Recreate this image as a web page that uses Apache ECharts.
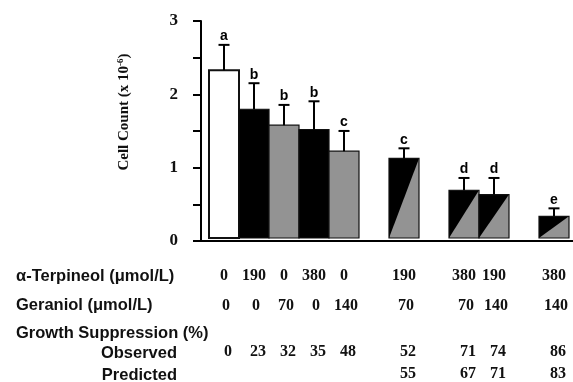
<!DOCTYPE html>
<html>
<head>
<meta charset="utf-8">
<script src="https://cdn.jsdelivr.net/npm/echarts@6/dist/echarts.min.js"></script>
<style>
  html, body { margin: 0; padding: 0; background: #fff; }
  #chart { width: 573px; height: 382px; }
</style>
</head>
<body>
<div id="chart"></div>
<script>
// table columns, '' marks a gap between groups
var columns   = ['0', '1', '2', '3', '4', '5', '6', '7', '8', '9', '10', '11'];
var terpineol = ['0', '190', '0', '380', '0', '', '190', '', '380', '190', '', '380'];
var geraniol  = ['0', '0', '70', '0', '140', '', '70', '', '70', '140', '', '140'];
var observed  = ['0', '23', '32', '35', '48', '', '52', '', '71', '74', '', '86'];
var predicted = ['', '', '', '', '', '', '55', '', '67', '71', '', '83'];

// cell count (x 10^-6), top of error bar, significance letter, fill kind
var cellCount = [2.32, 1.78, 1.56, 1.50, 1.20, null, 1.10, null, 0.66, 0.60, null, 0.30];
var errorTop  = [2.67, 2.14, 1.84, 1.89, 1.48, null, 1.24, null, 0.83, 0.83, null, 0.41];
var letters   = ['a', 'b', 'b', 'b', 'c', '', 'c', '', 'd', 'd', '', 'e'];
var fills     = ['white', 'black', 'gray', 'black', 'gray', '', 'combo', '', 'combo', 'combo', '', 'combo'];

var rowLabels = ['\u03b1-Terpineol (\u03bcmol/L)', 'Geraniol (\u03bcmol/L)', 'Growth Suppression (%)', 'Observed', 'Predicted'];

var GRAY = '#939393';
var numFont = { fontFamily: 'Liberation Serif', fontWeight: 'bold', fontSize: 16, color: '#111' };

var barData = [];
cellCount.forEach(function (v, i) {
  if (v != null) barData.push([i, v, errorTop[i]]);
});

function renderBar(params, api) {
  var i = api.value(0);
  var top = api.coord([i, api.value(1)]);
  var base = api.coord([i, 0]);
  var err = api.coord([i, api.value(2)]);
  var w = api.size([1, 0])[0];
  var x0 = top[0] - w / 2, x1 = top[0] + w / 2;
  var cx = top[0];
  var kind = fills[i];
  var kids = [];
  if (kind === 'combo') {
    kids.push({ type: 'rect', shape: { x: x0, y: top[1], width: w, height: base[1] - top[1] }, style: { fill: GRAY } });
    kids.push({ type: 'polygon', shape: { points: [[x0, top[1]], [x1, top[1]], [x0, base[1]]] }, style: { fill: '#000' } });
    kids.push({ type: 'rect', shape: { x: x0, y: top[1], width: w, height: base[1] - top[1] }, style: { fill: 'none', stroke: '#111', lineWidth: 1.2 } });
  } else {
    var c = kind === 'white' ? '#fff' : (kind === 'black' ? '#000' : GRAY);
    kids.push({ type: 'rect', shape: { x: x0, y: top[1], width: w, height: base[1] - top[1] },
      style: { fill: c, stroke: '#111', lineWidth: kind === 'white' ? 2 : 1.2 } });
  }
  // error bar + cap
  kids.push({ type: 'line', shape: { x1: cx, y1: top[1], x2: cx, y2: err[1] }, style: { stroke: '#000', lineWidth: 2 } });
  kids.push({ type: 'line', shape: { x1: cx - 5.5, y1: err[1], x2: cx + 5.5, y2: err[1] }, style: { stroke: '#000', lineWidth: 2 } });
  kids.push({ type: 'text', x: cx, y: err[1] - 1.5,
    style: { text: letters[i], align: 'center', verticalAlign: 'bottom',
      font: 'bold 14px "Liberation Sans", Arial, sans-serif', fill: '#000' } });
  return { type: 'group', children: kids };
}

function rowAxis(list, offset, shift) {
  return {
    type: 'category', gridIndex: 0, data: columns, position: 'bottom', offset: offset,
    axisLine: { show: false }, axisTick: { show: false },
    axisLabel: Object.assign({ margin: 30, interval: 0, padding: [0, 0, 0, shift],
      formatter: function (v, idx) { return list[idx]; } }, numFont)
  };
}

var rowY = [275, 304, 332, 352, 374];
var graphics = rowLabels.map(function (t, k) {
  var right = k >= 3;
  return {
    type: 'text', left: right ? null : 16, right: right ? 573 - 177 : null, top: rowY[k] - 7,
    style: { text: t, font: 'bold 16.5px "Liberation Sans", Arial, sans-serif', fill: '#111' }
  };
});

var chart = echarts.init(document.getElementById('chart'), null, { renderer: 'canvas' });
chart.setOption({
  animation: false,
  backgroundColor: '#fff',
  grid: [
    { left: 209, right: 4, top: 21, bottom: 141 },
    { left: 201, right: 0, top: 21, bottom: 141 }
  ],
  xAxis: [
    rowAxis(terpineol, 0, 0),
    rowAxis(geraniol, 30, 4),
    rowAxis(observed, 76, 8),
    rowAxis(predicted, 98, 8),
    { type: 'value', gridIndex: 1, min: 0, max: 1,
      axisLine: { show: true, onZero: false, lineStyle: { color: '#000', width: 2 } },
      axisTick: { show: false }, axisLabel: { show: false }, splitLine: { show: false } }
  ],
  yAxis: [
    { type: 'value', gridIndex: 0, min: 0, max: 3, show: false },
    { type: 'value', gridIndex: 1, min: 0, max: 3, interval: 0.5,
      name: 'Cell Count (x 10{sup|-6})', nameLocation: 'middle', nameRotate: 90, nameGap: 68,
      nameTextStyle: { fontFamily: 'Liberation Serif', fontWeight: 'bold', fontSize: 15, color: '#111',
        padding: [0, 0, 0, 38],
        rich: { sup: { fontFamily: 'Liberation Serif', fontWeight: 'bold', fontSize: 9, verticalAlign: 'top', padding: [0, 0, 8, 0] } } },
      axisLine: { show: true, lineStyle: { color: '#000', width: 2 } },
      axisTick: { show: true, length: 8, lineStyle: { color: '#000', width: 2 } },
      splitLine: { show: false },
      axisLabel: { margin: 23, fontSize: 17, fontFamily: 'Liberation Serif', fontWeight: 'bold', color: '#111',
        formatter: function (v) { return v % 1 === 0 ? String(v) : ''; } } }
  ],
  graphic: graphics,
  series: [{
    type: 'custom', xAxisIndex: 0, yAxisIndex: 0,
    renderItem: renderBar, data: barData, clip: false
  }]
});
</script>
</body>
</html>
